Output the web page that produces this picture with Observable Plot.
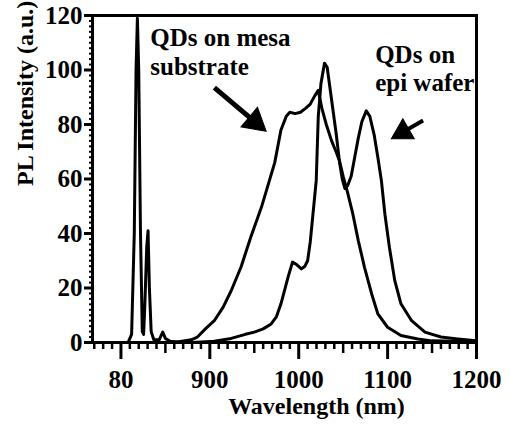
<!DOCTYPE html>
<html><head><meta charset="utf-8">
<script src="https://cdn.jsdelivr.net/npm/d3@7"></script>
<script src="https://cdn.jsdelivr.net/npm/@observablehq/plot@0.6"></script>
<style>html,body{margin:0;padding:0;background:#fff} svg text{font-family:"Liberation Serif","Times New Roman",serif !important;font-weight:bold !important}</style>
</head><body><div id="chart"></div>
<script>
// ---- data ----
const mesaWavelength = [770, 860, 879, 886, 895, 905, 915, 924, 935, 946, 958, 967, 973, 980, 986, 990, 996, 1002, 1008, 1013, 1018, 1022, 1026, 1031, 1037, 1042, 1046, 1050, 1055, 1061, 1067, 1074, 1082, 1089, 1100, 1115, 1134, 1150, 1200];
const mesaIntensity  = [0, 0, 1, 2, 5, 8, 13, 19, 27.6, 38.6, 49.6, 59.4, 66, 78, 83, 84.5, 84, 84.5, 86, 87.5, 90.5, 92.5, 86, 80, 74, 70, 66.5, 61, 55, 47, 37.4, 27.6, 17.9, 10.5, 5.6, 2.6, 1.3, 0.6, 0.3];

const epiWavelength = [770, 880, 905, 924, 940, 950, 960, 969, 975, 980, 984, 988, 993, 998, 1003, 1007, 1010, 1013, 1016, 1019.7, 1022, 1025, 1029, 1032, 1037, 1042, 1046, 1049, 1052, 1055, 1059, 1063, 1067, 1071, 1076, 1080, 1085, 1089, 1093, 1097, 1102, 1108, 1115, 1127, 1142, 1160, 1179, 1200];
const epiIntensity  = [0, 0, 0.5, 1.5, 3, 3.8, 5, 6.8, 9.5, 14.2, 19, 24, 29.5, 28.5, 27, 28, 30, 37, 47, 59.4, 83, 95, 102.5, 101, 89, 77, 66, 60, 56.5, 57.5, 61, 68, 75, 81, 85, 83, 76, 68, 59.4, 47, 35, 22.8, 14.2, 8, 3.8, 2, 1.3, 0.6];

const laserWavelength = [770, 808, 812, 815, 817, 818.5, 820, 822, 824, 825.5, 827, 829, 830.5, 832, 834, 837, 843, 847, 850, 855, 870];
const laserIntensity  = [0, 0, 3, 40, 100, 119, 100, 40, 4, 3, 15, 35, 41, 20, 4, 1, 1, 3.8, 1.5, 0.5, 0];

const xTicks = [800, 900, 1000, 1100, 1200];
const xTickLabels = ["80", "900", "1000", "1100", "1200"];
const xMinorTicks = d3.range(770, 1201, 10).filter(v => v % 50 !== 0);
const xMidTicks = [850, 950, 1050, 1150];
const yTicks = [0, 20, 40, 60, 80, 100, 120];
const yMinorTicks = d3.range(0, 121, 2).filter(v => v % 20 !== 0);

const labelNames = ["QDs on mesa\nsubstrate", "QDs on\nepi wafer"];
const labelX = [833, 1086];
const labelY = [106.8, 100.8];

// arrows: tail (x1,y1) -> tip (x2,y2), in data units
const arrowX1 = [905.1, 1139.9];
const arrowY1 = [93.5, 81.5];
const arrowX2 = [963.4, 1104.2];
const arrowY2 = [77.5, 74.8];
const arrowHead = [9.5, 8.5];
const arrowWidth = [5, 4];

// ---- build ----
const rows = (w, v, s) => w.map((x, i) => ({wl: x, pl: v[i], series: s}));
const curves = [
  ...rows(laserWavelength, laserIntensity, "laser"),
  ...rows(mesaWavelength, mesaIntensity, "mesa"),
  ...rows(epiWavelength, epiIntensity, "epi")
];

const W = 515, H = 430, mL = 92, mR = 39, mT = 15, mB = 88;
const xDomain = [768, 1200], yDomain = [0, 120];
const sx = d3.scaleLinear(xDomain, [mL, W - mR]);
const sy = d3.scaleLinear(yDomain, [H - mB, mT]);

const heads = [], shafts = [];
arrowX1.forEach((_, i) => {
  const px1 = sx(arrowX1[i]), py1 = sy(arrowY1[i]);
  const px2 = sx(arrowX2[i]), py2 = sy(arrowY2[i]);
  const len = Math.hypot(px2 - px1, py2 - py1);
  const ux = (px2 - px1) / len, uy = (py2 - py1) / len;
  const r = arrowHead[i];
  const cx = px2 - 1.555 * r * ux, cy = py2 - 1.555 * r * uy;
  const bx = px2 - 2.0 * r * ux, by = py2 - 2.0 * r * uy;
  heads.push({x: sx.invert(cx), y: sy.invert(cy), r, rotate: Math.atan2(ux, -uy) * 180 / Math.PI});
  shafts.push({x1: arrowX1[i], y1: arrowY1[i], x2: sx.invert(bx), y2: sy.invert(by), w: arrowWidth[i]});
});

const annotations = labelNames.map((t, i) => ({x: labelX[i], y: labelY[i], text: t}));

const font = '"Liberation Serif", "Times New Roman", serif';
const tf = {fontFamily: font, fontWeight: "bold"};

const chart = Plot.plot({
  width: W, height: H,
  marginLeft: mL, marginRight: mR, marginTop: mT, marginBottom: mB,
  style: {fontFamily: font, fontSize: "24px", fontWeight: "bold", color: "black", background: "white"},
  x: {domain: xDomain, label: null},
  y: {domain: yDomain, label: null},
  r: {type: "identity"},
  marks: [
    Plot.axisX(xMinorTicks, {tickSize: 7, strokeWidth: 2.5, tickFormat: () => "", label: null}),
    Plot.axisX(xMidTicks, {tickSize: 11, strokeWidth: 2.5, tickFormat: () => "", label: null}),
    Plot.axisX(xTicks, {tickSize: 17, strokeWidth: 3, tickPadding: 11, tickFormat: d => xTickLabels[xTicks.indexOf(d)], label: null, fontSize: 25, ...tf}),
    Plot.axisY(yMinorTicks, {tickSize: 3, strokeWidth: 2, tickFormat: () => "", label: null}),
    Plot.axisY(yTicks, {tickSize: 8, strokeWidth: 3, tickPadding: 2, label: null, fontSize: 25, ...tf}),
    Plot.line(curves, {x: "wl", y: "pl", z: "series", stroke: "black", strokeWidth: 3, strokeLinejoin: "round", clip: true}),
    Plot.frame({stroke: "black", strokeWidth: 3}),
    Plot.link(shafts, {x1: "x1", y1: "y1", x2: "x2", y2: "y2", stroke: "black", strokeWidth: "w"}),
    Plot.dot(heads, {x: "x", y: "y", r: "r", rotate: "rotate", symbol: "triangle", fill: "black", stroke: "black", strokeWidth: 1}),
    Plot.text(annotations, {x: "x", y: "y", text: "text", textAnchor: "start", lineHeight: 1.15, fontSize: 25, ...tf}),
    Plot.text(["Wavelength (nm)"], {frameAnchor: "bottom", dx: 32, dy: 71, fontSize: 24, ...tf}),
    Plot.text(["PL Intensity (a.u.)"], {frameAnchor: "left", dx: -67, dy: 7, rotate: -90, fontSize: 24, ...tf})
  ]
});
document.getElementById("chart").appendChild(chart);
</script>
</body></html>
